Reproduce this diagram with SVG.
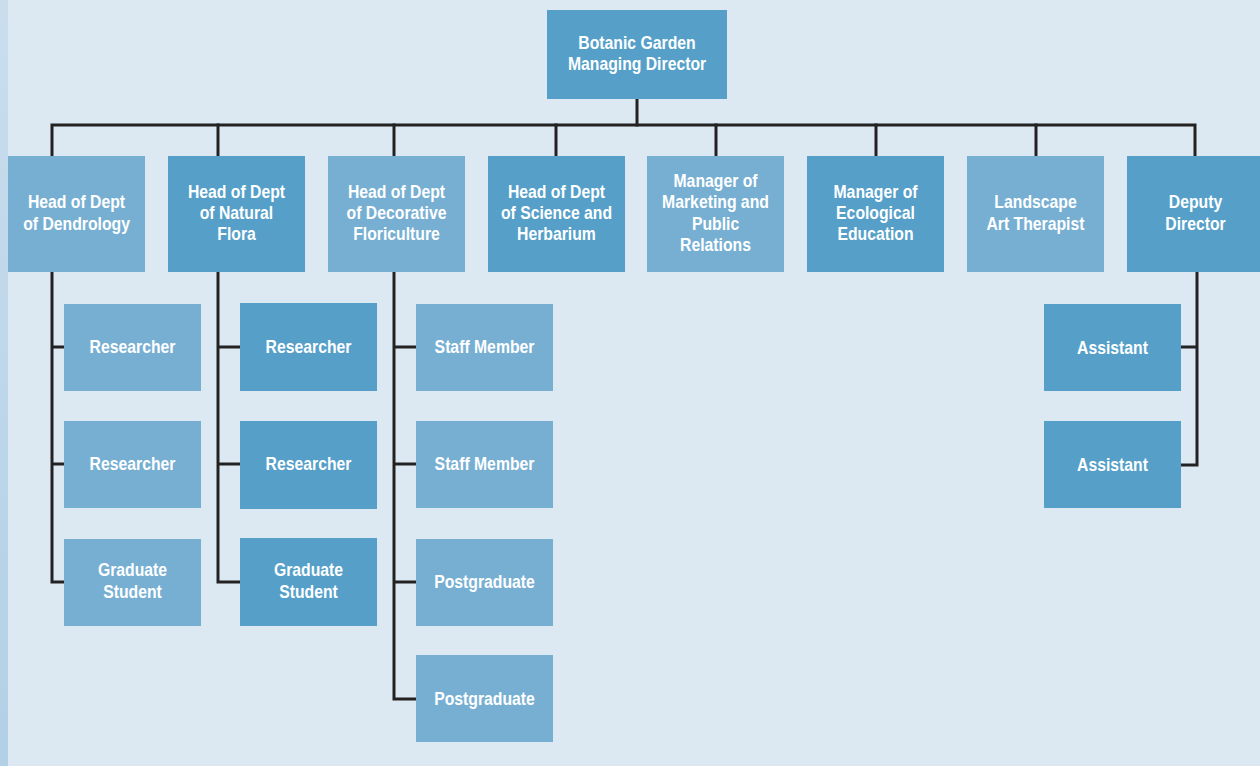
<svg xmlns="http://www.w3.org/2000/svg" width="1260" height="766" viewBox="0 0 1260 766">
<defs>
<linearGradient id="strip" x1="0" y1="0" x2="0" y2="1">
<stop offset="0" stop-color="#c9dded"/>
<stop offset="1" stop-color="#b2d0e6"/>
</linearGradient>
<style>
.l{fill:#77afd3}
.d{fill:#559fc9}
.t{font-family:"Liberation Sans Narrow","Liberation Sans",Arial,sans-serif;font-weight:bold;font-size:19px;fill:#ffffff;text-anchor:middle;transform-box:fill-box;transform-origin:center;transform:scaleX(0.83)}
.c{fill:none;stroke:#222222;stroke-width:3;stroke-linejoin:miter;stroke-linecap:square}
</style>
</defs>
<rect x="0" y="0" width="1260" height="766" fill="#dce9f2"/>
<rect x="0" y="0" width="8" height="766" fill="url(#strip)"/>
<g id="connectors">
<path class="c" d="M637,99 V125"/>
<path class="c" d="M52,156 V125 H1195 V156"/>
<path class="c" d="M218,125 V156 M394,125 V156 M556,125 V156 M716,125 V156 M876,125 V156 M1036,125 V156"/>
<path class="c" d="M52,272 V582 H64 M52,347 H64 M52,464 H64"/>
<path class="c" d="M218,272 V582 H240 M218,347 H240 M218,464 H240"/>
<path class="c" d="M394,272 V699 H416 M394,347 H416 M394,464 H416 M394,582 H416"/>
<path class="c" d="M1197,272 V465 H1181 M1197,347 H1181"/>
</g>
<g id="n-director"><rect class="d" x="547" y="10" width="180" height="89"/><text class="t" x="637" y="49">Botanic Garden</text><text class="t" x="637" y="70">Managing Director</text></g>
<g id="n-dendrology"><rect class="l" x="8" y="156" width="137" height="116"/><text class="t" x="76.5" y="208">Head of Dept</text><text class="t" x="76.5" y="230">of Dendrology</text></g>
<g id="n-flora"><rect class="d" x="168" y="156" width="137" height="116"/><text class="t" x="236.5" y="198">Head of Dept</text><text class="t" x="236.5" y="219">of Natural</text><text class="t" x="236.5" y="240">Flora</text></g>
<g id="n-floriculture"><rect class="l" x="328" y="156" width="137" height="116"/><text class="t" x="396.5" y="198">Head of Dept</text><text class="t" x="396.5" y="219">of Decorative</text><text class="t" x="396.5" y="240">Floriculture</text></g>
<g id="n-science"><rect class="d" x="488" y="156" width="137" height="116"/><text class="t" x="556.5" y="198">Head of Dept</text><text class="t" x="556.5" y="219">of Science and</text><text class="t" x="556.5" y="240">Herbarium</text></g>
<g id="n-marketing"><rect class="l" x="647" y="156" width="137" height="116"/><text class="t" x="715.5" y="187">Manager of</text><text class="t" x="715.5" y="208">Marketing and</text><text class="t" x="715.5" y="230">Public</text><text class="t" x="715.5" y="251">Relations</text></g>
<g id="n-ecology"><rect class="d" x="807" y="156" width="137" height="116"/><text class="t" x="875.5" y="198">Manager of</text><text class="t" x="875.5" y="219">Ecological</text><text class="t" x="875.5" y="240">Education</text></g>
<g id="n-landscape"><rect class="l" x="967" y="156" width="137" height="116"/><text class="t" x="1035.5" y="208">Landscape</text><text class="t" x="1035.5" y="230">Art Therapist</text></g>
<g id="n-deputy"><rect class="d" x="1127" y="156" width="137" height="116"/><text class="t" x="1195.5" y="208">Deputy</text><text class="t" x="1195.5" y="230">Director</text></g>
<g id="n-d-r1"><rect class="l" x="64" y="304" width="137" height="87"/><text class="t" x="132.5" y="353">Researcher</text></g>
<g id="n-d-r2"><rect class="l" x="64" y="421" width="137" height="87"/><text class="t" x="132.5" y="470">Researcher</text></g>
<g id="n-d-gs"><rect class="l" x="64" y="539" width="137" height="87"/><text class="t" x="132.5" y="576">Graduate</text><text class="t" x="132.5" y="598">Student</text></g>
<g id="n-f-r1"><rect class="d" x="240" y="303" width="137" height="88"/><text class="t" x="308.5" y="353">Researcher</text></g>
<g id="n-f-r2"><rect class="d" x="240" y="421" width="137" height="88"/><text class="t" x="308.5" y="470">Researcher</text></g>
<g id="n-f-gs"><rect class="d" x="240" y="538" width="137" height="88"/><text class="t" x="308.5" y="576">Graduate</text><text class="t" x="308.5" y="598">Student</text></g>
<g id="n-c-s1"><rect class="l" x="416" y="304" width="137" height="87"/><text class="t" x="484.5" y="353">Staff Member</text></g>
<g id="n-c-s2"><rect class="l" x="416" y="421" width="137" height="87"/><text class="t" x="484.5" y="470">Staff Member</text></g>
<g id="n-c-p1"><rect class="l" x="416" y="539" width="137" height="87"/><text class="t" x="484.5" y="588">Postgraduate</text></g>
<g id="n-c-p2"><rect class="l" x="416" y="655" width="137" height="87"/><text class="t" x="484.5" y="705">Postgraduate</text></g>
<g id="n-a1"><rect class="d" x="1044" y="304" width="137" height="87"/><text class="t" x="1112.5" y="354">Assistant</text></g>
<g id="n-a2"><rect class="d" x="1044" y="421" width="137" height="87"/><text class="t" x="1112.5" y="471">Assistant</text></g>
</svg>
